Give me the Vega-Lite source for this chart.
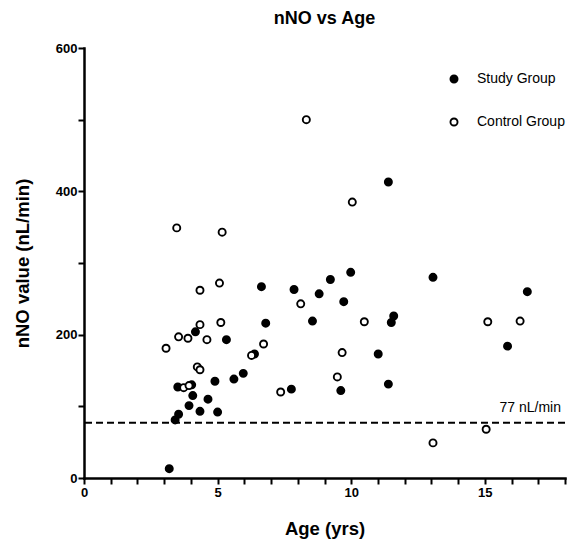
{
  "$schema": "https://vega.github.io/schema/vega-lite/v6.json",
  "width": 481,
  "height": 430,
  "autosize": {"type": "none"},
  "padding": {"left": 84, "top": 48, "right": 3, "bottom": 69},
  "background": "white",
  "config": {"view": {"stroke": null}, "font": "Liberation Sans"},
  "title": {"text": "nNO vs Age", "fontSize": 18, "fontWeight": "bold", "font": "Liberation Sans", "anchor": "middle", "offset": 14, "color": "black"},
  "resolve": {"axis": {"x": "independent"}},
  "layer": [
    {
      "data": {"values": [{"v": 77}]},
      "mark": {"type": "rule", "strokeDash": [7, 4], "strokeWidth": 2, "color": "black"},
      "encoding": {"y": {"field": "v", "type": "quantitative"}}
    },
    {
      "data": {"values": [{"label": "77 nL/min", "x": 17.85, "y": 77}]},
      "mark": {"type": "text", "align": "right", "baseline": "bottom", "dy": -8, "fontSize": 14, "font": "Liberation Sans", "color": "black"},
      "encoding": {
        "x": {
          "field": "x", "type": "quantitative",
          "axis": {
            "orient": "bottom",
            "values": [1,2,3,4,6,7,8,9,11,12,13,14,16,17,18],
            "labels": false, "title": null, "domain": false, "grid": false,
            "tickSize": 6, "tickWidth": 2, "tickColor": "black"
          }
        },
        "y": {"field": "y", "type": "quantitative"},
        "text": {"field": "label"}
      }
    },
    {
      "data": {"values": [
        {"group": "Study Group", "age": 6.64, "nno": 267},
        {"group": "Study Group", "age": 6.80, "nno": 216},
        {"group": "Study Group", "age": 4.17, "nno": 204},
        {"group": "Study Group", "age": 5.33, "nno": 193},
        {"group": "Study Group", "age": 6.38, "nno": 173},
        {"group": "Study Group", "age": 3.51, "nno": 127},
        {"group": "Study Group", "age": 4.03, "nno": 130},
        {"group": "Study Group", "age": 4.07, "nno": 115},
        {"group": "Study Group", "age": 3.93, "nno": 101},
        {"group": "Study Group", "age": 3.54, "nno": 89},
        {"group": "Study Group", "age": 3.41, "nno": 81},
        {"group": "Study Group", "age": 4.34, "nno": 93},
        {"group": "Study Group", "age": 4.64, "nno": 110},
        {"group": "Study Group", "age": 4.90, "nno": 135},
        {"group": "Study Group", "age": 5.00, "nno": 92},
        {"group": "Study Group", "age": 5.61, "nno": 138},
        {"group": "Study Group", "age": 5.96, "nno": 146},
        {"group": "Study Group", "age": 3.19, "nno": 13},
        {"group": "Study Group", "age": 7.76, "nno": 124},
        {"group": "Study Group", "age": 7.86, "nno": 263},
        {"group": "Study Group", "age": 8.80, "nno": 257},
        {"group": "Study Group", "age": 9.22, "nno": 277},
        {"group": "Study Group", "age": 9.98, "nno": 287},
        {"group": "Study Group", "age": 8.55, "nno": 219},
        {"group": "Study Group", "age": 9.72, "nno": 246},
        {"group": "Study Group", "age": 11.50, "nno": 217},
        {"group": "Study Group", "age": 11.59, "nno": 226},
        {"group": "Study Group", "age": 11.01, "nno": 173},
        {"group": "Study Group", "age": 9.61, "nno": 122},
        {"group": "Study Group", "age": 11.39, "nno": 131},
        {"group": "Study Group", "age": 13.06, "nno": 280},
        {"group": "Study Group", "age": 15.85, "nno": 184},
        {"group": "Study Group", "age": 16.59, "nno": 260},
        {"group": "Study Group", "age": 11.39, "nno": 413},
        {"group": "Control Group", "age": 3.47, "nno": 349},
        {"group": "Control Group", "age": 5.17, "nno": 343},
        {"group": "Control Group", "age": 4.34, "nno": 262},
        {"group": "Control Group", "age": 5.07, "nno": 272},
        {"group": "Control Group", "age": 4.34, "nno": 214},
        {"group": "Control Group", "age": 5.12, "nno": 217},
        {"group": "Control Group", "age": 3.54, "nno": 197},
        {"group": "Control Group", "age": 3.89, "nno": 195},
        {"group": "Control Group", "age": 4.60, "nno": 193},
        {"group": "Control Group", "age": 6.72, "nno": 187},
        {"group": "Control Group", "age": 3.07, "nno": 181},
        {"group": "Control Group", "age": 6.27, "nno": 171},
        {"group": "Control Group", "age": 4.24, "nno": 155},
        {"group": "Control Group", "age": 4.34, "nno": 151},
        {"group": "Control Group", "age": 3.73, "nno": 126},
        {"group": "Control Group", "age": 3.93, "nno": 129},
        {"group": "Control Group", "age": 7.36, "nno": 120},
        {"group": "Control Group", "age": 8.11, "nno": 243},
        {"group": "Control Group", "age": 10.49, "nno": 218},
        {"group": "Control Group", "age": 9.66, "nno": 175},
        {"group": "Control Group", "age": 9.48, "nno": 141},
        {"group": "Control Group", "age": 13.06, "nno": 49},
        {"group": "Control Group", "age": 15.05, "nno": 68},
        {"group": "Control Group", "age": 15.11, "nno": 218},
        {"group": "Control Group", "age": 16.32, "nno": 219},
        {"group": "Control Group", "age": 8.32, "nno": 500},
        {"group": "Control Group", "age": 10.04, "nno": 385}
      ]},
      "mark": {"type": "point", "shape": "circle", "filled": true, "size": 50, "stroke": "black", "strokeWidth": 1.9, "opacity": 1, "fillOpacity": 1},
      "encoding": {
        "x": {
          "field": "age", "type": "quantitative",
          "scale": {"domain": [0, 18], "nice": false, "zero": true},
          "axis": {
            "orient": "bottom",
            "values": [0, 5, 10, 15],
            "title": "Age (yrs)", "titleFontSize": 18.5, "titleFontWeight": "bold", "titleFont": "Liberation Sans", "titleColor": "black", "titlePadding": 20,
            "labelFontSize": 13, "labelFontWeight": "bold", "labelFont": "Liberation Sans", "labelColor": "black", "labelPadding": 2, "labelFlush": false, "labelOverlap": false,
            "tickSize": 6, "tickWidth": 2, "tickColor": "black", "domainWidth": 2.5, "domainColor": "black", "domainCap": "square", "grid": false
          }
        },
        "y": {
          "field": "nno", "type": "quantitative",
          "scale": {"domain": [0, 600], "nice": false},
          "axis": {
            "values": [0,50,100,150,200,250,300,350,400,450,500,550,600],
            "labelExpr": "datum.value % 200 === 0 ? datum.label : ''",
            "title": "nNO value (nL/min)", "titleFontSize": 18.5, "titleFontWeight": "bold", "titleFont": "Liberation Sans", "titleColor": "black", "titlePadding": 23,
            "labelFontSize": 13, "labelFontWeight": "bold", "labelFont": "Liberation Sans", "labelColor": "black", "labelPadding": 1, "labelFlush": false,
            "tickSize": 6, "tickWidth": 2, "tickColor": "black", "domainWidth": 2.5, "domainColor": "black", "domainCap": "square", "grid": false
          }
        },
        "fill": {
          "field": "group", "type": "nominal",
          "scale": {"domain": ["Study Group", "Control Group"], "range": ["black", "white"]},
          "legend": {
            "title": null, "orient": "none", "legendX": 363, "legendY": 24,
            "symbolType": "circle", "symbolSize": 50, "symbolStrokeColor": "black", "symbolStrokeWidth": 1.9, "symbolOpacity": 1,
            "labelFont": "Liberation Sans", "labelFontSize": 14, "labelColor": "black", "labelOffset": 16, "rowPadding": 27, "padding": 0
          }
        }
      }
    }
  ]
}
